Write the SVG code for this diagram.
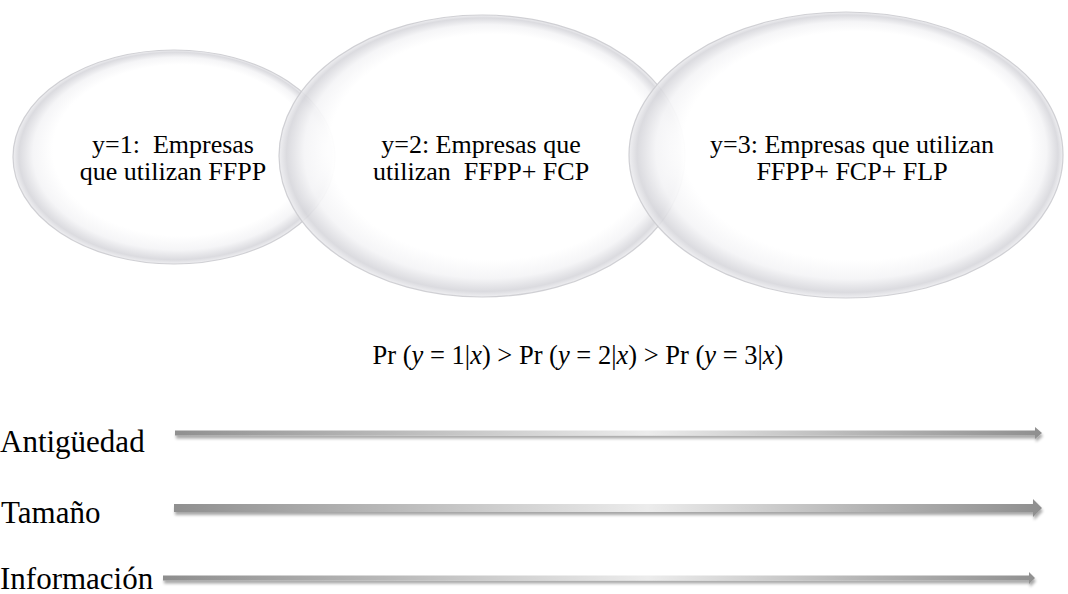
<svg xmlns="http://www.w3.org/2000/svg" width="1068" height="594" viewBox="0 0 1068 594">
  <style>
    .lbl { font-family: "Liberation Serif", "Times New Roman", serif; fill: #000; }
    .node-text { font-size: 26px; text-anchor: middle; white-space: pre; }
    .axis-text { font-size: 31px; }
    .eq { font-size: 26.5px; text-anchor: middle; white-space: pre; }
    .bubble { fill: url(#bubbleFill); stroke: #cbcbcf; stroke-width: 1.2; stroke-opacity: 0.9; }
    .shaft { filter: url(#arrowShadow); }
  </style>
  <defs>
    <!-- glossy disc lit from the upper right: white body, grey band on the lower-left rim -->
    <radialGradient id="bubbleFill" cx="50%" cy="50%" r="50%" fx="62%" fy="34%">
      <stop offset="0%" stop-color="#ffffff" stop-opacity="1"/>
      <stop offset="80%" stop-color="#ffffff" stop-opacity="0.95"/>
      <stop offset="90%" stop-color="#f4f4f6" stop-opacity="0.9"/>
      <stop offset="97%" stop-color="#d6d6db" stop-opacity="0.88"/>
      <stop offset="100%" stop-color="#ededf0" stop-opacity="0.88"/>
    </radialGradient>
    <linearGradient id="arrowFill" gradientUnits="userSpaceOnUse" x1="165" y1="0" x2="1042" y2="0">
      <stop offset="0%" stop-color="#8e8e8e"/>
      <stop offset="25%" stop-color="#b8b8b8"/>
      <stop offset="55%" stop-color="#ececec"/>
      <stop offset="80%" stop-color="#b4b4b4"/>
      <stop offset="100%" stop-color="#8f8f8f"/>
    </linearGradient>
    <filter id="arrowShadow" x="-2%" y="-100%" width="104%" height="300%">
      <feGaussianBlur in="SourceAlpha" stdDeviation="1.6"/>
      <feOffset dx="1" dy="2.5" result="blur"/>
      <feComponentTransfer><feFuncA type="linear" slope="0.35"/></feComponentTransfer>
      <feMerge><feMergeNode/><feMergeNode in="SourceGraphic"/></feMerge>
    </filter>
  </defs>

  <!-- outcome categories -->
  <g id="node-y1">
    <ellipse class="bubble" cx="174" cy="157" rx="161" ry="107"/>
    <text class="lbl node-text" x="173" y="153">y=1:  Empresas</text>
    <text class="lbl node-text" x="173" y="180">que utilizan FFPP</text>
  </g>
  <g id="node-y2">
    <ellipse class="bubble" cx="482" cy="156" rx="203" ry="141"/>
    <text class="lbl node-text" x="481" y="153">y=2: Empresas que</text>
    <text class="lbl node-text" x="481" y="180">utilizan  FFPP+ FCP</text>
  </g>
  <g id="node-y3">
    <ellipse class="bubble" cx="846" cy="155" rx="217" ry="143"/>
    <text class="lbl node-text" x="852" y="153">y=3: Empresas que utilizan</text>
    <text class="lbl node-text" x="852" y="180">FFPP+ FCP+ FLP</text>
  </g>

  <!-- ordering of probabilities -->
  <text class="lbl eq" x="578" y="364">Pr (<tspan font-style="italic">y</tspan> = 1|<tspan font-style="italic">x</tspan>) &gt; Pr (<tspan font-style="italic">y</tspan> = 2|<tspan font-style="italic">x</tspan>) &gt; Pr (<tspan font-style="italic">y</tspan> = 3|<tspan font-style="italic">x</tspan>)</text>

  <!-- explanatory variables -->
  <text class="lbl axis-text" x="0" y="452">Antigüedad</text>
  <text class="lbl axis-text" x="1" y="523">Tamaño</text>
  <text class="lbl axis-text" x="0" y="589">Información</text>

  <g id="connectors" fill="url(#arrowFill)">
    <path class="shaft" d="M175,430.5 H1035 V427 L1042,433 L1035,439 V435.5 H175 Z"/>
    <path class="shaft" d="M174,504 H1033 V499 L1042,508 L1033,517 V512 H174 Z"/>
    <path class="shaft" d="M163,575.5 H1029 V572 L1035,578 L1029,584 V580.5 H163 Z"/>
  </g>
</svg>
